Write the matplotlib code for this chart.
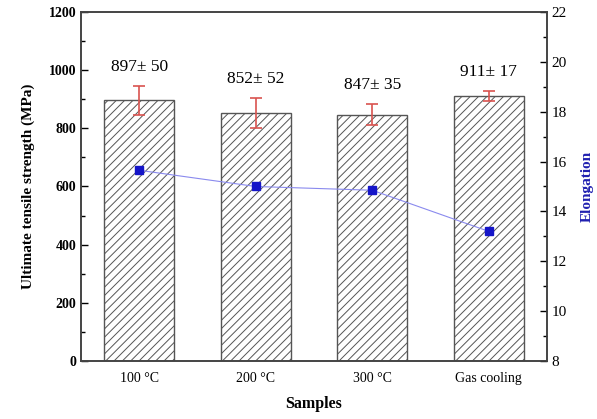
import matplotlib.pyplot as plt
from matplotlib.ticker import MultipleLocator

plt.rcParams['font.family'] = ['Liberation Serif', 'DejaVu Serif']
plt.rcParams['hatch.color'] = '#707070'
plt.rcParams['hatch.linewidth'] = 0.7

# data
samples = ['100 °C', '200 °C', '300 °C', 'Gas cooling']
uts = [897, 852, 847, 911]
uts_err = [50, 52, 35, 17]
elongation = [15.65, 15.0, 14.85, 13.2]

fig = plt.figure(figsize=(5.97, 4.19), dpi=100)
ax = fig.add_axes([0.1357, 0.1384, 0.7805, 0.833])

x = range(len(samples))
ax.bar(x, uts, width=0.6, color='white', edgecolor='#555555', linewidth=1.0, hatch='////')
ax.errorbar(x, uts, yerr=uts_err, fmt='none', ecolor='#d9534f', elinewidth=1.2,
            capsize=4, capthick=1.2)
for i in x:
    ax.text(i, uts[i] + uts_err[i] + 38, f'{uts[i]}± {uts_err[i]}', ha='center',
            va='bottom', fontsize=12.5)

ax.set_xlim(-0.5, 3.5)
ax.set_ylim(0, 1200)
ax.yaxis.set_major_locator(MultipleLocator(200))
ax.yaxis.set_minor_locator(MultipleLocator(100))
ax.set_xticks(list(x))
ax.set_xticklabels(samples, fontsize=10)
ax.tick_params(axis='x', length=0, pad=8)
ax.tick_params(axis='y', which='major', direction='in', length=5, width=1, labelsize=10)
ax.tick_params(axis='y', which='minor', direction='in', length=3, width=1)
for lab in ax.get_yticklabels():
    lab.set_fontweight('bold')
ax.set_ylabel('Ultimate tensile strength (MPa)', fontsize=11, fontweight='bold', labelpad=10)
ax.set_xlabel('Samples', fontsize=11.5, fontweight='bold', labelpad=8)
for s in ax.spines.values():
    s.set_color('#444444')
    s.set_linewidth(1.2)

ax2 = ax.twinx()
ax2.plot(list(x), elongation, color='#8a8aee', linewidth=0.8, marker='s',
         markersize=6, markerfacecolor='#1515c8', markeredgecolor='#1515c8')
ax2.set_ylim(8, 22)
ax2.yaxis.set_major_locator(MultipleLocator(2))
ax2.yaxis.set_minor_locator(MultipleLocator(1))
ax2.tick_params(axis='y', which='major', direction='in', length=5, width=1, labelsize=11)
ax2.tick_params(axis='y', which='minor', direction='in', length=3, width=1)
ax2.set_ylabel('Elongation', fontsize=11, fontweight='bold', color='#2020b0', labelpad=10)
for s in ax2.spines.values():
    s.set_color('#444444')
    s.set_linewidth(1.2)

fig.savefig('out.png', dpi=100)
